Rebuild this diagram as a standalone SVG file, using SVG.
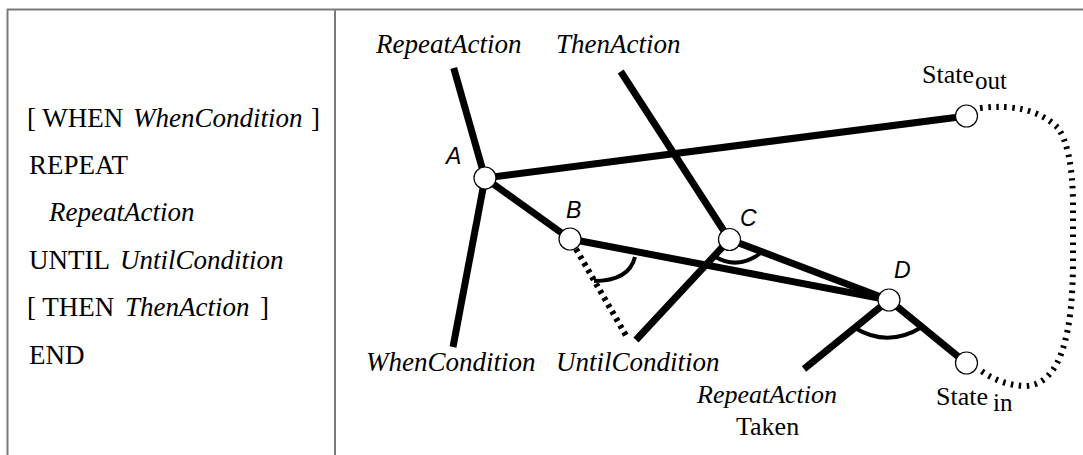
<svg xmlns="http://www.w3.org/2000/svg" width="1083" height="455" viewBox="0 0 1083 455">
  <style>
    .frame{stroke:#7a7a7a;stroke-width:2;fill:none}
    .edge{stroke:#000;stroke-width:7;fill:none;stroke-linecap:butt}
    .hatch{stroke:#000;stroke-width:6;fill:none;stroke-dasharray:3.5 4.5}
    .loop{stroke:#000;stroke-width:6;fill:none;stroke-dasharray:2.5 5.5}
    .angle{stroke:#000;stroke-width:4;fill:none}
    .node circle{fill:#fff;stroke:#000;stroke-width:1.2}
    .serif{font-family:'Liberation Serif','Times New Roman',serif;font-size:27px;fill:#000}
    .it{font-style:italic}
    .sans{font-family:'Liberation Sans',Arial,sans-serif;font-size:23px;font-style:italic;fill:#000}
  </style>

  <!-- table frame -->
  <g id="frame">
    <line class="frame" x1="7" y1="9.5" x2="1083" y2="9.5"/>
    <line class="frame" x1="7.5" y1="9" x2="7.5" y2="455"/>
    <line class="frame" x1="335" y1="9" x2="335" y2="455"/>
  </g>

  <!-- statement syntax -->
  <g id="syntax">
    <text class="serif" x="27" y="126.5">[ WHEN</text>
    <text class="serif it" x="133" y="126.5">WhenCondition</text>
    <text class="serif" x="311" y="126.5">]</text>
    <text class="serif" x="29" y="174">REPEAT</text>
    <text class="serif it" x="49" y="221">RepeatAction</text>
    <text class="serif" x="29" y="268.5">UNTIL</text>
    <text class="serif it" x="120" y="268.5">UntilCondition</text>
    <text class="serif" x="27" y="316">[ THEN</text>
    <text class="serif it" x="125" y="316">ThenAction</text>
    <text class="serif" x="260" y="316">]</text>
    <text class="serif" x="29" y="363.5">END</text>
  </g>

  <!-- connectors -->
  <g id="connectors">
    <line class="edge" x1="453.7" y1="68" x2="485" y2="178"/>
    <line class="edge" x1="485" y1="178" x2="453" y2="347"/>
    <line class="edge" x1="485" y1="178" x2="967" y2="116"/>
    <line class="edge" x1="485" y1="178" x2="570" y2="239"/>
    <line class="edge" x1="570" y1="239" x2="889" y2="300"/>
    <line class="edge" x1="620.7" y1="71.5" x2="729.5" y2="239.5"/>
    <line class="edge" x1="729.5" y1="239.5" x2="636" y2="340"/>
    <line class="edge" x1="729.5" y1="239.5" x2="889" y2="300"/>
    <line class="edge" x1="889" y1="300" x2="966" y2="363"/>
    <line class="edge" x1="889" y1="300" x2="804" y2="369"/>
    <line class="hatch" x1="576" y1="249" x2="628" y2="339"/>
    <path class="loop" d="M 980 108 Q 1032 102 1058 128 Q 1072 148 1073 200 L 1073 260 C 1073 330 1062 385 1025 386 Q 1000 385 980 370"/>
    <path class="angle" d="M 635 257 Q 629 281 594 281"/>
    <path class="angle" d="M 714 256 Q 738 271 762 252"/>
    <path class="angle" d="M 855 328 Q 888 348 922 327"/>
  </g>

  <!-- terminal labels -->
  <g id="label-repeat-action"><text class="serif it" x="376" y="52.5">RepeatAction</text></g>
  <g id="label-then-action"><text class="serif it" x="556" y="52.5">ThenAction</text></g>
  <g id="label-when-condition"><text class="serif it" x="366" y="371">WhenCondition</text></g>
  <g id="label-until-condition"><text class="serif it" x="556" y="371">UntilCondition</text></g>
  <g id="label-action-taken">
    <text class="serif it" x="697" y="403" style="font-size:26px">RepeatAction</text>
    <text class="serif" x="736" y="435" style="font-size:26px">Taken</text>
  </g>

  <!-- nodes -->
  <g id="node-A" class="node">
    <circle cx="485" cy="178" r="11"/>
    <text class="sans" x="446" y="164">A</text>
  </g>
  <g id="node-B" class="node">
    <circle cx="570" cy="239" r="11"/>
    <text class="sans" x="566" y="217.5">B</text>
  </g>
  <g id="node-C" class="node">
    <circle cx="729.5" cy="239.5" r="11"/>
    <text class="sans" x="740" y="226">C</text>
  </g>
  <g id="node-D" class="node">
    <circle cx="889" cy="300" r="11"/>
    <text class="sans" x="894" y="278">D</text>
  </g>
  <g id="node-state-out" class="node">
    <circle cx="966.5" cy="116" r="11"/>
    <text class="serif" x="922" y="83" style="font-size:26px">State</text>
    <text class="serif" x="975" y="88.5" style="font-size:25px">out</text>
  </g>
  <g id="node-state-in" class="node">
    <circle cx="966.5" cy="363" r="11"/>
    <text class="serif" x="936" y="405" style="font-size:26px">State</text>
    <text class="serif" x="993" y="410.5" style="font-size:25px">in</text>
  </g>
</svg>
